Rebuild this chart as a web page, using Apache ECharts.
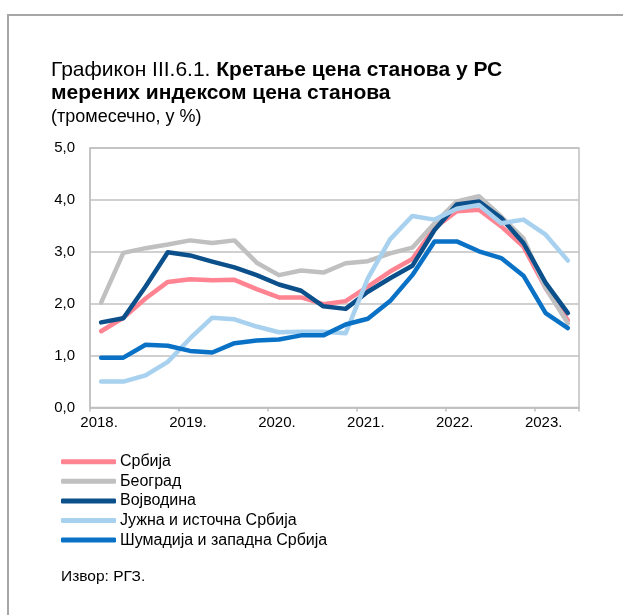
<!DOCTYPE html>
<html>
<head>
<meta charset="utf-8">
<script src="https://cdn.jsdelivr.net/npm/echarts@6/dist/echarts.min.js"></script>
<style>
html,body{margin:0;padding:0;background:#fff;}
#chart{width:623px;height:615px;}
</style>
</head>
<body>
<div id="chart"></div>
<script>
const categories = ['2018Q1','2018Q2','2018Q3','2018Q4','2019Q1','2019Q2','2019Q3','2019Q4',
  '2020Q1','2020Q2','2020Q3','2020Q4','2021Q1','2021Q2','2021Q3','2021Q4',
  '2022Q1','2022Q2','2022Q3','2022Q4','2023Q1','2023Q2'];
const yearLabels = ['2018.','2019.','2020.','2021.','2022.','2023.'];
const yTickLabels = ['0,0','1,0','2,0','3,0','4,0','5,0'];
const seriesNames = ['Србија','Београд','Војводина','Јужна и источна Србија','Шумадија и западна Србија'];
const srbija   = [1.47,1.73,2.10,2.42,2.47,2.45,2.46,2.28,2.12,2.12,1.99,2.05,2.33,2.62,2.86,3.46,3.78,3.81,3.49,3.10,2.30,1.68];
const beograd  = [2.02,2.98,3.07,3.14,3.22,3.17,3.22,2.79,2.55,2.64,2.60,2.78,2.82,2.97,3.08,3.55,3.97,4.07,3.68,3.26,2.30,1.62];
const vojvodina= [1.64,1.72,2.33,2.99,2.93,2.81,2.70,2.55,2.37,2.25,1.95,1.90,2.23,2.49,2.73,3.42,3.91,3.97,3.65,3.17,2.40,1.82];
const juzna    = [0.50,0.50,0.62,0.88,1.33,1.73,1.70,1.56,1.45,1.46,1.46,1.43,2.49,3.24,3.69,3.62,3.83,3.90,3.55,3.62,3.33,2.83];
const sumadija = [0.96,0.96,1.21,1.19,1.09,1.06,1.24,1.29,1.31,1.39,1.39,1.60,1.71,2.05,2.55,3.20,3.20,3.01,2.88,2.54,1.82,1.53];
const colors = ['#ff8391','#c0c0c0','#0b4f8b','#a7d1ee','#0a72c6'];

const FONT = 'Liberation Sans';
const chart = echarts.init(document.getElementById('chart'), null, {renderer:'canvas'});
const allData = [srbija, beograd, vojvodina, juzna, sumadija];

chart.setOption({
  animation: false,
  textStyle: {fontFamily: FONT},
  graphic: [
    {type:'rect', shape:{x:8, y:15, width:700, height:700}, style:{fill:'none', stroke:'#a6a6a6', lineWidth:2}, z:-1},
    {type:'text', left:61, top:569, style:{text:'Извор: РГЗ.', font:'15.5px "Liberation Sans"', fill:'#000'}}
  ],
  title: {
    left: 51, top: 58.5, padding: 0,
    text: '{n|Графикон III.6.1. }{b|Кретање цена станова у РС}\n{b|мерених индексом цена станова}\n{s|(тромесечно, у %)}',
    textStyle: {
      fontFamily: FONT, fontWeight: 'normal',
      rich: {
        n: {fontSize: 21, fontFamily: FONT, fontWeight:'normal', color:'#000', lineHeight: 23},
        b: {fontSize: 21, fontFamily: FONT, fontWeight:'bold', color:'#000', lineHeight: 23},
        s: {fontSize: 18, fontFamily: FONT, fontWeight:'normal', color:'#000', lineHeight: 26}
      }
    }
  },
  legend: {
    orient: 'vertical', left: 61, top: 453.7, padding: 0,
    itemWidth: 55, itemHeight: 5, itemGap: 3.6,
    icon: 'roundRect',
    textStyle: {fontSize: 16, fontFamily: FONT, color:'#000', lineHeight: 16, padding:[0,0,0,-1]},
    data: seriesNames
  },
  grid: {left: 90, right: 44, top: 148, bottom: 207.5, show: true, borderColor:'#c0c0c0', borderWidth: 1.5},
  xAxis: {
    type: 'category', data: categories, boundaryGap: true,
    axisLine: {lineStyle: {color:'#c0c0c0', width: 1.5}},
    axisTick: {show: true, interval: function(i){ return i % 4 === 0; }, length: 4, lineStyle:{color:'#c0c0c0', width:1.5}},
    axisLabel: {
      interval: 3, margin: 8, color:'#000', fontSize: 15, fontFamily: FONT,
      formatter: function(v, i){ return '{a|' + yearLabels[Math.floor(i/4)] + '}'; },
      rich: {a: {fontSize: 15, fontFamily: FONT, color:'#000', padding:[0,4,0,0]}}
    },
    splitLine: {show:false}
  },
  yAxis: {
    type: 'value', min: 0, max: 5, interval: 1,
    axisLine: {show: true, lineStyle: {color:'#c0c0c0', width: 1.5}},
    axisTick: {show: false},
    axisLabel: {margin: 15, color:'#000', fontSize: 15, fontFamily: FONT,
      formatter: function(v){ return yTickLabels[Math.round(v)]; }},
    splitLine: {lineStyle: {color:'#c0c0c0', width: 1.5}}
  },
  series: seriesNames.map(function(name, k){
    return {
      name: name, type: 'line', data: allData[k],
      symbol: 'none', smooth: false,
      lineStyle: {color: colors[k], width: 4.5, cap:'round', join:'round'},
      itemStyle: {color: colors[k]},
      emphasis: {disabled: true}
    };
  })
});
</script>
</body>
</html>
